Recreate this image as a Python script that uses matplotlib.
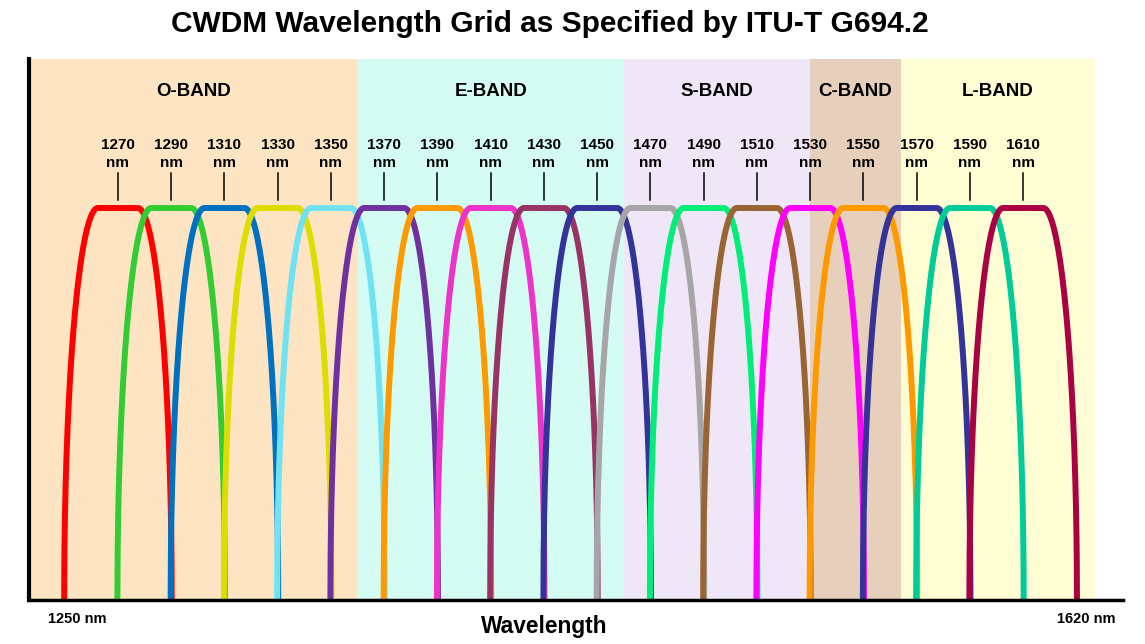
import matplotlib
matplotlib.use("Agg")
import matplotlib.pyplot as plt
import numpy as np

plt.rcParams['font.family'] = ['Liberation Sans', 'DejaVu Sans']

# channel centres (nm) and their colours
channels = [1270, 1290, 1310, 1330, 1350, 1370, 1390, 1410, 1430,
            1450, 1470, 1490, 1510, 1530, 1550, 1570, 1590, 1610]
colors = ["#FF0000", "#33CC33", "#0070C0", "#DDDD00", "#70E2F2", "#7030A0",
          "#FF9900", "#EE33CC", "#993366", "#333399", "#A6A6A6", "#00EE77",
          "#996633", "#FF00FF", "#FF9900", "#333399", "#00CC99", "#AA0044"]

# bands
band_names = ["O-BAND", "E-BAND", "S-BAND", "C-BAND", "L-BAND"]
band_start = [1236.6, 1360, 1460, 1530, 1564]
band_end = [1360, 1460, 1530, 1564, 1637]
band_colors = ["#FDE5C4", "#D4FCF2", "#EFE6F8", "#E6CFBB", "#FEFDD4"]

xmin, xmax = 1236.6, 1647.5
half_width = 20.2  # nm at the base
flat = 7.5         # nm half width of the flat top

fig = plt.figure(figsize=(11.45, 6.44), dpi=100)
ax = fig.add_axes([29 / 1145, 44 / 644, (1123 - 29) / 1145, (600 - 59) / 644])

for name, s, e, c in zip(band_names, band_start, band_end, band_colors):
    ax.axvspan(s, e, color=c, zorder=0, lw=0)
    ax.text((s + e) / 2, 1.297, name, ha="center", va="center",
            fontsize=13.5, fontweight="bold")

# flat-top filter profile with elliptical skirts
d = np.linspace(-half_width, half_width, 801)
u = np.clip((np.abs(d) - flat) / (half_width - flat), 0, 1)
shape = np.sqrt(1 - u ** 2)

for ch, col in zip(channels, colors):
    ax.plot(ch + d, shape, color=col, lw=4.3, solid_capstyle="butt", zorder=3)
    ax.plot([ch, ch], [1.02, 1.089], color="black", lw=1.1)
    ax.text(ch, 1.138, f"{ch}\nnm", ha="center", va="center",
            fontsize=11, fontweight="bold", linespacing=1.4)

ax.set_xlim(xmin, xmax)
ax.set_ylim(0, 1.380)
ax.set_xticks([])
ax.set_yticks([])
for side in ["top", "right"]:
    ax.spines[side].set_visible(False)
ax.spines["left"].set_linewidth(3)
ax.spines["bottom"].set_linewidth(2.5)
ax.spines["left"].set_zorder(5)
ax.spines["bottom"].set_zorder(5)

ax.text(1243.7, -0.048, "1250 nm", ha="left", va="center",
        fontsize=10.5, fontweight="bold")
ax.text(1644.5, -0.048, "1620 nm", ha="right", va="center",
        fontsize=10.5, fontweight="bold")

fig.text(544 / 1145, 1 - 627 / 644, "Wavelength", ha="center", va="center",
         fontsize=16.4, fontweight="bold")
fig.text(550 / 1145, 1 - 24 / 644, "CWDM Wavelength Grid as Specified by ITU-T G694.2",
         ha="center", va="center", fontsize=21.5, fontweight="bold")

fig.savefig("out.png", dpi=100)
